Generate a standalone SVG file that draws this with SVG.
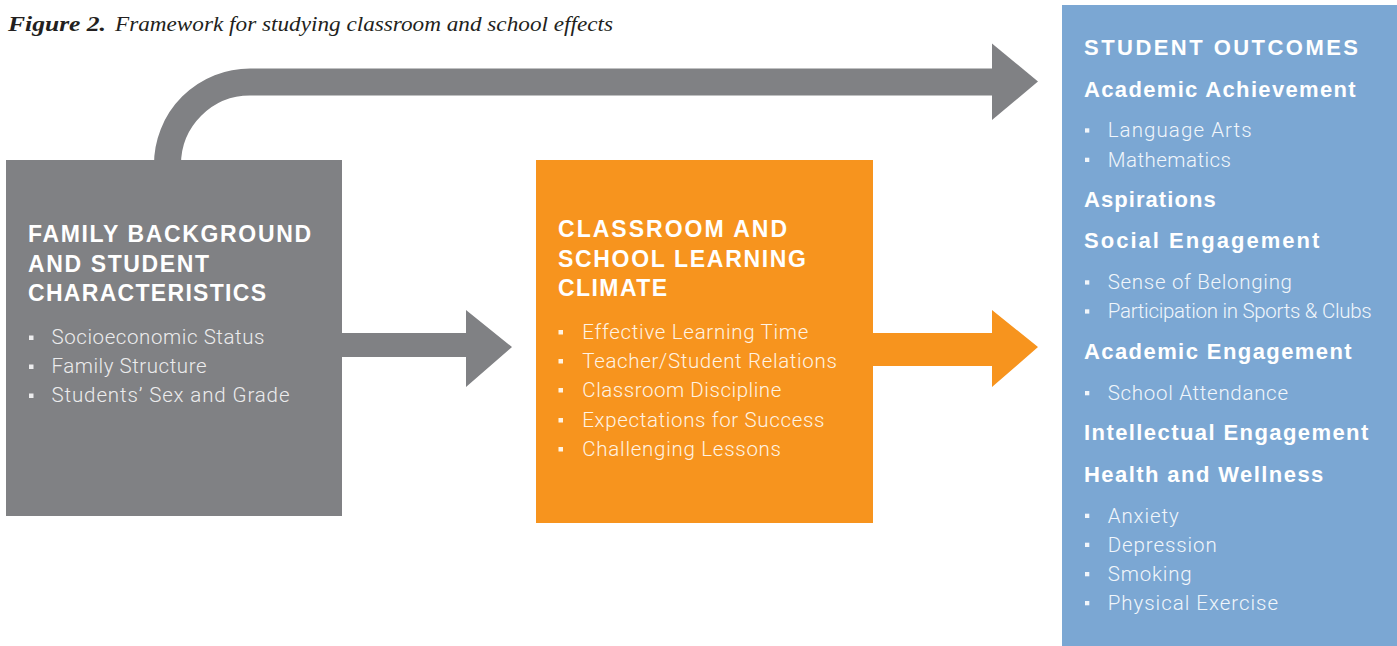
<svg xmlns="http://www.w3.org/2000/svg" width="1397" height="646" viewBox="0 0 1397 646">
  <style>
    .title { font-family: "Liberation Serif", "DejaVu Serif", serif; font-style: italic; font-size: 22px; fill: #231f20; }
    .title-b { font-weight: bold; }
    .head { font-family: "Liberation Sans", Arial, sans-serif; font-weight: bold; font-size: 23px; fill: #ffffff; }
    .sub { font-family: "Liberation Sans", Arial, sans-serif; font-weight: bold; font-size: 22px; fill: #ffffff; }
    .item { font-family: Roboto, "Liberation Sans", sans-serif; font-weight: 300; font-size: 20.5px; }
    .g-item { fill: #ececed; }
    .o-item { fill: #fff3e3; }
    .b-item { fill: #f1f6fb; }
    .bul-g { fill: #ececed; }
    .bul-o { fill: #fff3e3; }
    .bul-b { fill: #f1f6fb; }
    .gray { fill: #808184; }
    .orange { fill: #f7941e; }
    .blue { fill: #7ba7d3; }
  </style>

  <g id="title">
    <text class="title title-b" x="8" y="31" textLength="98" lengthAdjust="spacingAndGlyphs">Figure 2.</text>
    <text class="title" x="115" y="31" textLength="498" lengthAdjust="spacingAndGlyphs">Framework for studying classroom and school effects</text>
  </g>

  <g id="connectors">
    <path d="M167.5,175 V164.5 A82.5,82.5 0 0 1 250,82 H994" fill="none" stroke="#808184" stroke-width="27"/>
    <polygon class="gray" points="992,43.5 1038,81.5 992,120"/>
    <polygon class="gray" points="342,333 466,333 466,310 512,347 466,387 466,357 342,357"/>
    <polygon class="orange" points="873,333 992,333 992,310 1038,347 992,387 992,366 873,366"/>
  </g>

  <g id="family-background">
    <rect class="gray" x="6" y="160" width="336" height="356"/>
    <text class="head" x="28" y="242" textLength="283">FAMILY BACKGROUND</text>
    <text class="head" x="28" y="272" textLength="181">AND STUDENT</text>
    <text class="head" x="28" y="301" textLength="238">CHARACTERISTICS</text>
    <rect class="bul-g" x="29" y="335.5" width="4.5" height="4.5"/>
    <rect class="bul-g" x="29" y="364.5" width="4.5" height="4.5"/>
    <rect class="bul-g" x="29" y="393.5" width="4.5" height="4.5"/>
    <text class="item g-item" x="51.5" y="344" textLength="213">Socioeconomic Status</text>
    <text class="item g-item" x="51.5" y="373" textLength="155">Family Structure</text>
    <text class="item g-item" x="51.5" y="402" textLength="238">Students’ Sex and Grade</text>
  </g>

  <g id="learning-climate">
    <rect class="orange" x="536" y="160" width="337" height="363"/>
    <text class="head" x="558" y="237" textLength="229">CLASSROOM AND</text>
    <text class="head" x="558" y="267" textLength="248">SCHOOL LEARNING</text>
    <text class="head" x="558" y="296" textLength="109">CLIMATE</text>
    <rect class="bul-o" x="558.5" y="330" width="4.5" height="4.5"/>
    <rect class="bul-o" x="558.5" y="359" width="4.5" height="4.5"/>
    <rect class="bul-o" x="558.5" y="388" width="4.5" height="4.5"/>
    <rect class="bul-o" x="558.5" y="418" width="4.5" height="4.5"/>
    <rect class="bul-o" x="558.5" y="447" width="4.5" height="4.5"/>
    <text class="item o-item" x="582.3" y="339" textLength="226">Effective Learning Time</text>
    <text class="item o-item" x="582.3" y="368" textLength="254.5">Teacher/Student Relations</text>
    <text class="item o-item" x="582.3" y="397" textLength="199">Classroom Discipline</text>
    <text class="item o-item" x="582.3" y="427" textLength="242">Expectations for Success</text>
    <text class="item o-item" x="582.3" y="456" textLength="198.7">Challenging Lessons</text>
  </g>

  <g id="student-outcomes">
    <rect class="blue" x="1062" y="5" width="335" height="641"/>
    <text class="sub" x="1084" y="55" textLength="274">STUDENT OUTCOMES</text>
    <text class="sub" x="1084" y="97" textLength="271.7">Academic Achievement</text>
    <rect class="bul-b" x="1085" y="128.3" width="4.3" height="4.3"/>
    <rect class="bul-b" x="1085" y="157.7" width="4.3" height="4.3"/>
    <text class="item b-item" x="1107.7" y="137.3" textLength="144">Language Arts</text>
    <text class="item b-item" x="1107.7" y="166.7" textLength="123.3">Mathematics</text>
    <text class="sub" x="1084" y="207.3" textLength="131.7">Aspirations</text>
    <text class="sub" x="1084" y="248.3" textLength="235.3">Social Engagement</text>
    <rect class="bul-b" x="1085" y="280.3" width="4.3" height="4.3"/>
    <rect class="bul-b" x="1085" y="309.3" width="4.3" height="4.3"/>
    <text class="item b-item" x="1107.7" y="289.3" textLength="184.3">Sense of Belonging</text>
    <text class="item b-item" x="1107.7" y="318.3" textLength="264">Participation in Sports &amp; Clubs</text>
    <text class="sub" x="1084" y="359.3" textLength="267.7">Academic Engagement</text>
    <rect class="bul-b" x="1085" y="391" width="4.3" height="4.3"/>
    <text class="item b-item" x="1107.7" y="400" textLength="180.3">School Attendance</text>
    <text class="sub" x="1084" y="440" textLength="284.3">Intellectual Engagement</text>
    <text class="sub" x="1084" y="481.7" textLength="239.3">Health and Wellness</text>
    <rect class="bul-b" x="1085" y="513.7" width="4.3" height="4.3"/>
    <rect class="bul-b" x="1085" y="542.7" width="4.3" height="4.3"/>
    <rect class="bul-b" x="1085" y="572" width="4.3" height="4.3"/>
    <rect class="bul-b" x="1085" y="601" width="4.3" height="4.3"/>
    <text class="item b-item" x="1107.7" y="522.7" textLength="71">Anxiety</text>
    <text class="item b-item" x="1107.7" y="551.7" textLength="109">Depression</text>
    <text class="item b-item" x="1107.7" y="581" textLength="84">Smoking</text>
    <text class="item b-item" x="1107.7" y="610" textLength="170.3">Physical Exercise</text>
  </g>
</svg>
